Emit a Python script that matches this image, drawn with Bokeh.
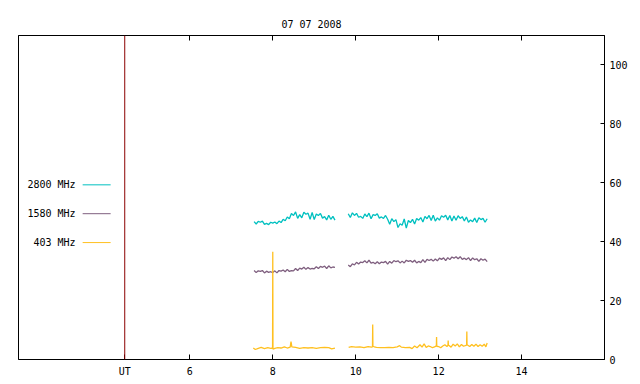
from bokeh.plotting import figure
from bokeh.models import Range1d, LinearAxis, FixedTicker, Span, Label
from bokeh.embed import file_html
from bokeh.resources import INLINE

TITLE = "07 07 2008"
X_TICKS = [4.43, 6, 8, 10, 12, 14]
X_TICK_LABELS = ["UT", "6", "8", "10", "12", "14"]
Y_TICKS = [0, 20, 40, 60, 80, 100]
UT_MARK = 4.43
SERIES = ["2800 MHz", "1580 MHz", "403 MHz"]
COLORS = ["#00c0c0", "#7f5f7f", "#ffc020"]

# regular sampling (hours) for 2800 and 1580 MHz
DT = 0.05
SEG1_START = 7.55
SEG2_START = 9.82

f2800_a = [46.8, 46.0, 46.9, 46.6, 47.0, 45.9, 46.2, 45.8, 46.6, 46.3,
           46.7, 46.1, 47.0, 46.5, 47.6, 47.1, 48.4, 47.8, 49.6, 48.9,
           50.1, 47.9, 49.2, 48.1, 50.0, 49.3, 49.7, 47.6, 49.9, 47.5,
           49.4, 48.9, 49.6, 48.0, 48.5, 47.4, 49.0, 47.6, 48.6, 47.3]
f2800_b = [49.5, 48.2, 49.8, 48.9, 49.6, 48.3, 48.6, 47.9, 49.4, 48.5,
           49.7, 47.8, 49.2, 48.9, 49.5, 48.0, 48.4, 47.9, 48.9,
           47.6, 45.9, 47.8, 46.8, 47.5, 44.8, 46.1, 45.6, 47.7, 44.6,
           47.2, 46.5, 47.6,
           46.0, 47.9, 47.3, 48.2, 46.7, 48.6, 47.8, 48.9,
           47.2, 49.0, 47.0, 48.1, 47.3, 48.8, 48.3, 49.0, 47.4, 48.9,
           47.0, 48.7,
           47.3, 48.8, 47.9, 48.5, 47.0, 48.4, 46.6, 47.4, 46.8, 48.0,
           46.5, 48.1, 47.5, 47.9, 46.6, 47.8]

f1580_a = [30.2, 29.5, 30.1, 29.9, 30.2, 29.4, 30.0, 29.6, 29.8, 29.5,
           30.1, 29.4, 30.2, 30.0, 30.4, 29.8, 30.6, 29.9, 30.2, 30.1,
           30.9, 30.2, 31.0, 30.7, 31.3, 30.6, 31.2, 30.7, 30.9, 30.8,
           31.5, 30.9, 31.6, 31.3, 31.7, 30.9, 31.8, 31.1, 31.4, 31.3]
f1580_b = [32.1, 31.5, 32.5, 32.1, 33.0, 32.4, 33.1, 32.9, 33.5, 32.8,
           33.7, 32.7, 33.0, 32.5, 33.2, 32.5, 33.1, 32.9, 33.3, 32.4,
           33.3, 32.7, 33.6, 33.2, 33.5, 32.8, 33.4, 32.8, 33.7, 33.3,
           33.6, 33.0, 33.7, 32.8, 33.3, 32.9, 33.9, 33.0, 34.0, 33.6,
           34.0, 33.4, 34.1, 33.5, 34.4, 34.0, 34.5, 33.6, 34.6, 33.9,
           34.8, 34.4, 34.9, 34.2, 34.9, 34.0, 34.4, 33.9, 34.6, 33.6,
           34.5, 33.9, 34.2, 33.3, 34.2, 33.7, 34.1, 33.2]

t403_a = [7.53, 7.58, 7.65, 7.72, 7.8, 7.88, 7.95, 7.995, 8.0, 8.005, 8.05,
          8.12, 8.2, 8.28, 8.35, 8.42, 8.44, 8.46, 8.55, 8.65, 8.75, 8.85,
          8.95, 9.05, 9.15, 9.25, 9.35, 9.42, 9.5]
f403_a = [3.9, 3.4, 3.8, 4.1, 3.7, 4.0, 3.8, 3.9, 36.6, 3.5, 3.8,
          4.0, 3.9, 4.3, 3.9, 4.2, 6.1, 4.3, 4.1, 3.8, 4.0, 3.9,
          4.0, 3.8, 4.0, 4.1, 4.0, 3.6, 3.9]
t403_b = [9.83, 9.9, 10.0, 10.1, 10.2, 10.3, 10.38, 10.405, 10.41, 10.415,
          10.45, 10.5, 10.6, 10.7, 10.8, 10.9, 11.0, 11.06, 11.1, 11.2, 11.3,
          11.36, 11.42, 11.48, 11.55, 11.6, 11.65, 11.7, 11.75, 11.8, 11.85,
          11.9, 11.945, 11.95, 11.955, 12.0, 12.05, 12.1, 12.15, 12.2, 12.225,
          12.23, 12.235, 12.3, 12.35, 12.4, 12.45, 12.5, 12.55, 12.6, 12.675,
          12.68, 12.685, 12.75, 12.8, 12.85, 12.9, 12.95, 13.0, 13.05, 13.1,
          13.14, 13.17]
f403_b = [4.1, 4.4, 4.2, 4.3, 4.0, 4.4, 4.2, 4.3, 11.9, 4.5,
          4.3, 4.1, 4.0, 4.0, 4.1, 4.0, 4.3, 4.7, 4.2, 4.0, 4.1,
          3.7, 4.6, 4.0, 5.0, 4.2, 5.3, 4.1, 4.6, 4.4, 4.0,
          4.3, 4.6, 7.6, 4.5, 4.4, 4.0, 4.6, 5.0, 4.4, 4.8,
          6.4, 4.9, 4.2, 5.2, 4.6, 5.3, 4.3, 5.1, 4.5, 4.9,
          9.5, 5.0, 4.4, 5.1, 4.5, 5.2, 4.4, 5.0, 4.5, 5.2,
          4.3, 5.6]


def times(start, n):
    return [start + i * DT for i in range(n)]


FONT = "DejaVu Sans Mono"
FS = "10px"
LW = 1.3

p = figure(width=640, height=384, output_backend="svg", toolbar_location=None,
           x_range=Range1d(1.868, 16.0), y_range=Range1d(0, 110),
           x_axis_location="below", y_axis_location="right",
           min_border_left=18, min_border_right=36, min_border_top=35,
           min_border_bottom=25)
p.grid.visible = False
p.outline_line_color = "black"
p.outline_line_width = 1
p.background_fill_color = "white"
p.border_fill_color = "white"

p.title.text = TITLE
p.title.align = "center"
p.title.vertical_align = "bottom"
p.title.text_font = FONT
p.title.text_font_size = FS
p.title.text_font_style = "normal"
p.title.text_color = "black"
p.title.offset = 0
p.title.standoff = 0
p.title.padding = 6

# bottom axis
xa = p.xaxis[0]
xa.ticker = FixedTicker(ticks=X_TICKS)
xa.major_label_overrides = {t: l for t, l in zip(X_TICKS, X_TICK_LABELS)}
xa.major_tick_in = 5
xa.major_tick_out = 0
xa.minor_tick_line_color = None
xa.major_label_standoff = 6
xa.major_label_text_font = FONT
xa.major_label_text_font_size = FS
xa.major_label_text_color = "black"
xa.axis_line_color = "black"

# top axis with tick marks only (labels not painted)
top = LinearAxis(ticker=FixedTicker(ticks=X_TICKS[1:]), major_tick_in=5,
                 major_tick_out=0, minor_tick_line_color=None,
                 major_label_text_font=FONT, major_label_text_font_size=FS,
                 major_label_text_color=None, major_label_standoff=0,
                 axis_line_color="black")
p.add_layout(top, "above")

ya = p.yaxis[0]
ya.ticker = FixedTicker(ticks=Y_TICKS)
ya.major_tick_in = 4
ya.major_tick_out = 0
ya.minor_tick_line_color = None
ya.major_label_standoff = 5
ya.major_label_text_font = FONT
ya.major_label_text_font_size = FS
ya.major_label_text_color = "black"
ya.axis_line_color = "black"

p.add_layout(Span(location=UT_MARK, dimension="height", line_color="#8b0000",
                  line_width=1))

p.line(times(SEG1_START, len(f2800_a)), f2800_a, line_color=COLORS[0], line_width=LW)
p.line(times(SEG2_START, len(f2800_b)), f2800_b, line_color=COLORS[0], line_width=LW)
p.line(times(SEG1_START, len(f1580_a)), f1580_a, line_color=COLORS[1], line_width=LW)
p.line(times(SEG2_START, len(f1580_b)), f1580_b, line_color=COLORS[1], line_width=LW)
p.line(t403_a, f403_a, line_color=COLORS[2], line_width=LW)
p.line(t403_b, f403_b, line_color=COLORS[2], line_width=LW)

# key (labels left of sample lines)
key_y = [59.3, 49.5, 39.7]
for name, col, ky in zip(SERIES, COLORS, key_y):
    p.add_layout(Label(x=3.245, y=ky, text=name, text_align="right",
                       text_baseline="middle", text_font=FONT,
                       text_font_size=FS, text_color="black"))
    p.segment(x0=[3.415], y0=[ky], x1=[4.09], y1=[ky], line_color=col,
              line_width=1)

open("out.html", "w").write(file_html(p, INLINE))
